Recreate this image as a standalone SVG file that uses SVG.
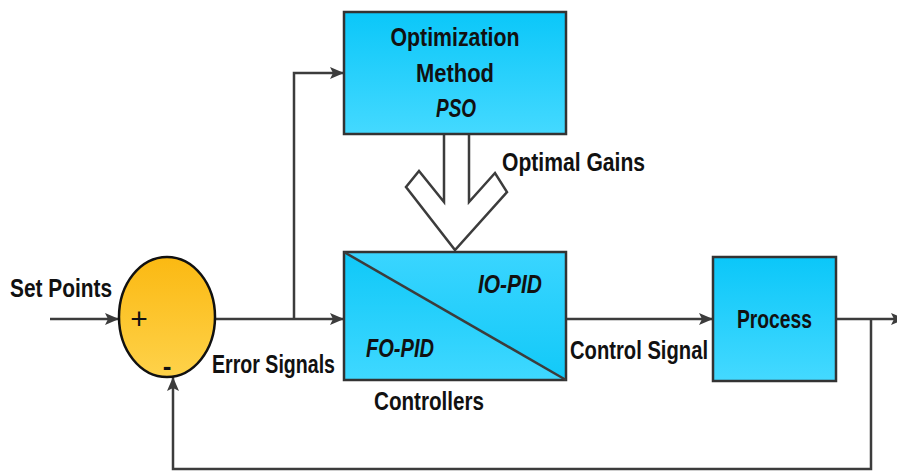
<svg xmlns="http://www.w3.org/2000/svg" width="897" height="473" viewBox="0 0 897 473">
<style>
.ln{fill:none;stroke:#3c3c3c;stroke-width:2.5}
.bx{stroke:#333;stroke-width:2.5}
.t{font-family:"Liberation Sans",Arial,sans-serif;font-weight:bold;font-size:26px;fill:#111}
.i{font-style:italic}
</style>
<defs>
<linearGradient id="gb" x1="0" y1="0" x2="0" y2="1"><stop offset="0" stop-color="#0BC7F9"/><stop offset="1" stop-color="#44D9FF"/></linearGradient>
<linearGradient id="gu" x1="0" y1="0" x2="0" y2="1"><stop offset="0" stop-color="#3AD5FF"/><stop offset="1" stop-color="#12C9F8"/></linearGradient>
<linearGradient id="gl" x1="0" y1="0" x2="0" y2="1"><stop offset="0" stop-color="#0FC8F8"/><stop offset="1" stop-color="#3FD8FF"/></linearGradient>
<linearGradient id="gy" x1="0" y1="0" x2="0" y2="1"><stop offset="0" stop-color="#FBB912"/><stop offset="1" stop-color="#FED24A"/></linearGradient>
<marker id="ah" viewBox="0 0 14 12" refX="14" refY="6" markerWidth="14" markerHeight="12" markerUnits="userSpaceOnUse" orient="auto"><path d="M0,0 L14,6 L0,12 L3,6 Z" fill="#3c3c3c"/></marker>
</defs>
<g id="connectors">
<path class="ln" d="M50,319 H119" marker-end="url(#ah)"/>
<path class="ln" d="M215,319 H344" marker-end="url(#ah)"/>
<path class="ln" d="M294,319 V73 H344" marker-end="url(#ah)"/>
<path class="ln" d="M566,319 H713" marker-end="url(#ah)"/>
<path class="ln" d="M836,319 H905" marker-end="url(#ah)"/>
<path class="ln" d="M871,319 V469 H173 V377" marker-end="url(#ah)"/>
<path d="M444,135 V202 L419,171 L406,187 L455,250 L507,192 L495,173 L469,202 V135" fill="#fff" stroke="#3c3c3c" stroke-width="2.5" stroke-linejoin="miter"/>
</g>
<g id="sum">
<ellipse cx="167" cy="317" rx="48" ry="60" fill="url(#gy)" stroke="#111" stroke-width="2.5"/>
<text class="t" x="139" y="329" text-anchor="middle" style="font-weight:normal;font-size:30px">+</text>
<text class="t" x="167" y="375" text-anchor="middle">-</text>
</g>
<g id="optimization">
<rect class="bx" x="344" y="12" width="222" height="122" fill="url(#gb)"/>
<text class="t" x="455" y="46" text-anchor="middle" textLength="129" lengthAdjust="spacingAndGlyphs">Optimization</text>
<text class="t" x="455" y="82" text-anchor="middle" textLength="78" lengthAdjust="spacingAndGlyphs">Method</text>
<text class="t i" x="456" y="117" text-anchor="middle" textLength="40" lengthAdjust="spacingAndGlyphs">PSO</text>
</g>
<g id="controllers">
<path d="M344,252 H566 V380 Z" fill="url(#gu)"/>
<path d="M344,252 L566,380 H344 Z" fill="url(#gl)"/>
<rect class="bx" x="344" y="252" width="222" height="128" fill="none"/>
<path d="M344,252 L566,380" stroke="#3c3c3c" stroke-width="2.5"/>
<text class="t i" x="478" y="293" textLength="64" lengthAdjust="spacingAndGlyphs">IO-PID</text>
<text class="t i" x="366" y="357" textLength="68" lengthAdjust="spacingAndGlyphs">FO-PID</text>
</g>
<g id="process">
<rect class="bx" x="713" y="257" width="123" height="124" fill="url(#gb)"/>
<text class="t" x="737" y="328" textLength="75" lengthAdjust="spacingAndGlyphs">Process</text>
</g>
<g id="labels">
<text class="t" x="10" y="297" textLength="102" lengthAdjust="spacingAndGlyphs">Set Points</text>
<text class="t" x="212" y="373" textLength="123" lengthAdjust="spacingAndGlyphs">Error Signals</text>
<text class="t" x="502" y="171" textLength="143" lengthAdjust="spacingAndGlyphs">Optimal Gains</text>
<text class="t" x="374" y="410" textLength="110" lengthAdjust="spacingAndGlyphs">Controllers</text>
<text class="t" x="570" y="359" textLength="138" lengthAdjust="spacingAndGlyphs">Control Signal</text>
</g>
</svg>
